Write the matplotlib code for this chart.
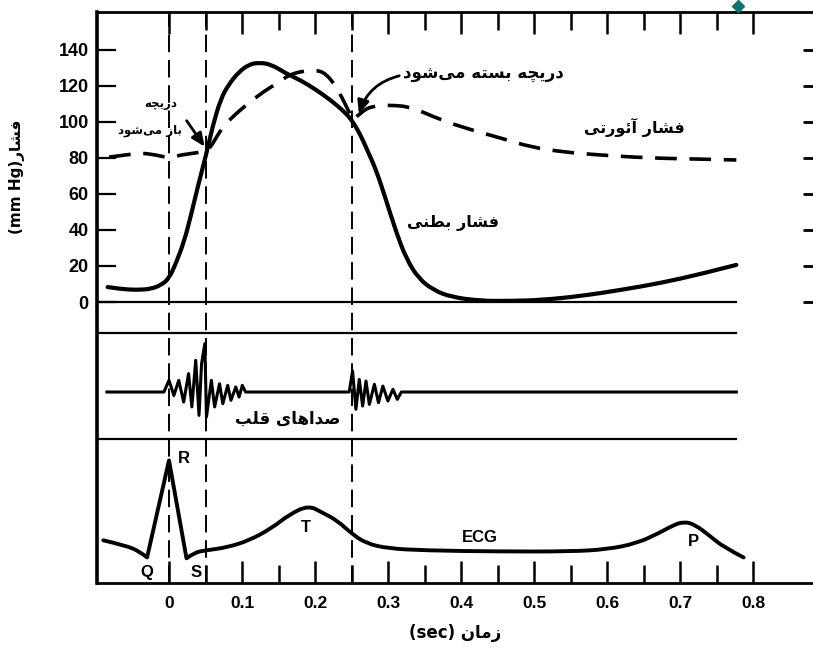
import numpy as np
import matplotlib
matplotlib.use("Agg")
import matplotlib.pyplot as plt
from matplotlib.lines import Line2D
from matplotlib.path import Path
from matplotlib.patches import PathPatch
from matplotlib.ticker import FixedLocator

# ---- data (time in s, pressure in mmHg) ----
lv_t = [-0.084, -0.066, -0.045, -0.025, -0.011, 0.0, 0.010, 0.021, 0.030, 0.040,
        0.051, 0.060, 0.071, 0.082, 0.096, 0.110, 0.123, 0.140, 0.160, 0.181,
        0.201, 0.222, 0.242, 0.252, 0.262, 0.272, 0.284, 0.297, 0.311, 0.325,
        0.342, 0.362, 0.386, 0.427, 0.468, 0.510, 0.564, 0.619, 0.674, 0.729, 0.777]
lv_p = [8.3, 7.2, 6.7, 7.2, 9.4, 13, 22, 34, 48, 65,
        82, 98, 113, 121, 128, 132, 133, 132, 127, 123,
        118, 112, 105, 100, 93, 84, 73, 57, 39, 24,
        13, 6.7, 2.8, 0.6, 0.6, 1.1, 3.3, 6.7, 10.6, 15.6, 20.6]

ao_t = [-0.082, -0.059, -0.038, -0.018, 0.0, 0.016, 0.037, 0.053, 0.060, 0.073,
        0.090, 0.109, 0.130, 0.150, 0.164, 0.180, 0.200, 0.215, 0.230, 0.245,
        0.252, 0.263, 0.279, 0.304, 0.332, 0.373, 0.414, 0.455, 0.496, 0.541,
        0.588, 0.656, 0.725, 0.777]
ao_p = [80.5, 81.7, 82.8, 81.7, 80, 81.7, 82.8, 84, 88, 97,
        104, 110.5, 117, 122, 126, 128, 129, 127, 119, 107,
        101, 105.6, 109, 109.4, 108.3, 101, 95.6, 91, 86, 83.3,
        81.7, 80, 79.4, 78.9]

# heart sounds (amplitude around the trace baseline)
hs_t = [-0.085, -0.007, 0.0, 0.0067, 0.0134, 0.0201, 0.0268, 0.0313, 0.0366, 0.0411,
        0.0446, 0.0491, 0.0513, 0.058, 0.0625, 0.0692, 0.0737, 0.0804, 0.0848, 0.0915,
        0.096, 0.1004, 0.1049, 0.1116,
        0.2468, 0.2514, 0.256, 0.2606, 0.2652, 0.2698, 0.2744, 0.2813, 0.2869, 0.2929,
        0.2998, 0.3067, 0.3127, 0.3182, 0.777]
hs_a = [0, 0, 6.5, -1.9, 6.5, -5.6, 10.2, -8.3, 17.6, -13,
        15.7, 26.9, -13.9, 6.5, -8.3, 4.6, -6.5, 3.7, -4.6, 2.8,
        -2.8, 3.7, 0, 0,
        0, 11.7, -9.6, 7, -7.8, 6.1, -6.9, 4.3, -5.9, 3.3,
        -5, 1.5, -4.1, 0, 0]

# ECG (amplitude around its baseline)
ecg_t = [-0.090, -0.06, -0.04, -0.030, 0.0, 0.024, 0.035, 0.05, 0.08, 0.11,
         0.14, 0.165, 0.191, 0.21, 0.23, 0.25, 0.27, 0.30, 0.35, 0.45,
         0.55, 0.60, 0.64, 0.67, 0.69, 0.705, 0.72, 0.74, 0.76, 0.787]
ecg_a = [5.6, 2.8, -0.6, -3.9, 50, -4.4, -1.1, 0, 1.7, 5.6,
         12.2, 20, 25, 21, 16.7, 9.4, 3.9, 1.1, 0, -0.6,
         -0.6, 0.6, 3.9, 9.4, 13.9, 16, 14.4, 8.3, 1.7, -3.9]

event_t = [0.0, 0.05, 0.25]
y_ticks = [0, 20, 40, 60, 80, 100, 120, 140]
x_ticks = [0, 0.1, 0.2, 0.3, 0.4, 0.5, 0.6, 0.7, 0.8]
x_minor = [0.05, 0.15, 0.25, 0.35, 0.45, 0.55, 0.65, 0.75]
x_tick_labels = ["0", "0.1", "0.2", "0.3", "0.4", "0.5", "0.6", "0.7", "0.8"]

# ---- simple Persian shaping (matplotlib has no complex text layout) ----
FORMS = {
    'ا': ('\uFE8D', '\uFE8E', None, None),
    'آ': ('\uFE81', '\uFE82', None, None),
    'ئ': ('\uFE89', '\uFE8A', '\uFE8B', '\uFE8C'),
    'ب': ('\uFE8F', '\uFE90', '\uFE91', '\uFE92'),
    'ت': ('\uFE95', '\uFE96', '\uFE97', '\uFE98'),
    'چ': ('\uFB7A', '\uFB7B', '\uFB7C', '\uFB7D'),
    'د': ('\uFEA9', '\uFEAA', None, None),
    'ر': ('\uFEAD', '\uFEAE', None, None),
    'ز': ('\uFEAF', '\uFEB0', None, None),
    'س': ('\uFEB1', '\uFEB2', '\uFEB3', '\uFEB4'),
    'ش': ('\uFEB5', '\uFEB6', '\uFEB7', '\uFEB8'),
    'ص': ('\uFEB9', '\uFEBA', '\uFEBB', '\uFEBC'),
    'ط': ('\uFEC1', '\uFEC2', '\uFEC3', '\uFEC4'),
    'ف': ('\uFED1', '\uFED2', '\uFED3', '\uFED4'),
    'ق': ('\uFED5', '\uFED6', '\uFED7', '\uFED8'),
    'ل': ('\uFEDD', '\uFEDE', '\uFEDF', '\uFEE0'),
    'م': ('\uFEE1', '\uFEE2', '\uFEE3', '\uFEE4'),
    'ن': ('\uFEE5', '\uFEE6', '\uFEE7', '\uFEE8'),
    'ه': ('\uFEE9', '\uFEEA', '\uFEEB', '\uFEEC'),
    'و': ('\uFEED', '\uFEEE', None, None),
    'ی': ('\uFBFC', '\uFBFD', '\uFBFE', '\uFBFF'),
}


def fa(text):
    out = []
    for i, c in enumerate(text):
        if c not in FORMS:
            if c != '\u200c':
                out.append(c)
            continue
        prev = text[i - 1] if i > 0 else None
        nxt = text[i + 1] if i + 1 < len(text) else None
        jp = prev in FORMS and FORMS[prev][2] is not None
        jn = nxt in FORMS and FORMS[c][2] is not None
        iso, fin, ini, med = FORMS[c]
        if jp and jn:
            out.append(med)
        elif jp:
            out.append(fin)
        elif jn:
            out.append(ini)
        else:
            out.append(iso)
    return ''.join(reversed(out))


def smooth_path(xs, ys, corners=()):
    # quadratic bezier through midpoints, sharp at the given indices
    p = list(zip(xs, ys))
    n = len(p)
    verts = [p[0]]
    codes = [Path.MOVETO]
    for i in range(1, n - 1):
        if i in corners:
            verts.append(p[i])
            codes.append(Path.LINETO)
            continue
        mid = ((p[i][0] + p[i + 1][0]) / 2, (p[i][1] + p[i + 1][1]) / 2)
        end = p[i + 1] if (i + 1) in corners or i + 1 == n - 1 else mid
        verts += [p[i], end]
        codes += [Path.CURVE3, Path.CURVE3]
    if verts[-1] != p[-1]:
        verts.append(p[-1])
        codes.append(Path.LINETO)
    return Path(verts, codes)


FA = dict(family='DejaVu Sans', fontweight='bold')
LAT = dict(family='Liberation Sans', fontweight='bold')

fig = plt.figure(figsize=(8.13, 6.48), dpi=100)
ax = fig.add_axes([97 / 813, 1 - 583 / 648, 1 - 97 / 813, (583 - 12) / 648])
ax.set_xlim(-0.0986, 0.882)
ax.set_ylim(-156.1, 161.1)

# panel separators
HS_BASE = -50
ECG_BASE = -138
for yv in [0, -17, -76]:
    ax.plot([-0.0986, 0.777], [yv, yv], color='black', lw=1.6)

# event lines
for tv in event_t:
    ax.axvline(tv, color='black', lw=1.4, dashes=(9, 4))

ax.add_patch(PathPatch(smooth_path(lv_t, lv_p), fill=False, lw=3, ec='black',
                       capstyle='round', joinstyle='round'))
ax.add_patch(PathPatch(smooth_path(ao_t, ao_p, corners=(7, 20)), fill=False, lw=2.6,
                       ec='black', linestyle=(0, (6, 3.5))))
ax.plot(hs_t, HS_BASE + np.array(hs_a), color='black', lw=2.2, solid_joinstyle='round')
ax.add_patch(PathPatch(smooth_path(ecg_t, ECG_BASE + np.array(ecg_a), corners=(3, 4, 5)),
                       fill=False, lw=2.8, ec='black', capstyle='round', joinstyle='round'))

# ticks
ax.xaxis.set_major_locator(FixedLocator(x_ticks))
ax.xaxis.set_minor_locator(FixedLocator(x_minor))
ax.set_xticklabels(x_tick_labels, fontsize=12.5, **LAT)
ax.tick_params(axis='x', which='both', direction='in', top=True, bottom=True, width=1.8, pad=9)
ax.tick_params(axis='x', which='major', length=16)
ax.tick_params(axis='x', which='minor', length=13)
ax.set_yticks(y_ticks)
ax.set_yticklabels([str(v) for v in y_ticks], fontsize=13, **LAT)
ax.tick_params(axis='y', direction='in', left=True, right=True, length=14, width=1.6, pad=6)
for tk in ax.yaxis.get_major_ticks():
    tk.tick2line.set_markersize(7)
    tk.tick2line.set_markeredgewidth(2)

ax.spines['right'].set_visible(False)
ax.spines['left'].set_linewidth(2.6)
ax.spines['top'].set_linewidth(2)
ax.spines['bottom'].set_linewidth(2)

# labels
ax.set_xlabel('(sec) ' + fa('زمان'), fontsize=12, labelpad=10, **FA)
fig.text(17 / 813, 1 - 177 / 648, '(mm Hg)' + fa('فشار'), rotation=90, ha='center',
         va='center', fontsize=11, **FA)

ax.text(0.43, 127, fa('دریچه بسته می‌شود'), ha='center', va='center', fontsize=12, **FA)
ax.annotate('', xy=(0.259, 103), xytext=(0.319, 126),
            arrowprops=dict(arrowstyle='-|>,head_length=0.8,head_width=0.35', color='black',
                            lw=2, connectionstyle='arc3,rad=0.3'))
ax.text(-0.011, 110, fa('دریچه'), ha='center', va='center', fontsize=8.5, **FA)
ax.text(-0.026, 95, fa('باز می‌شود'), ha='center', va='center', fontsize=8.5, **FA)
ax.annotate('', xy=(0.051, 85), xytext=(0.022, 102),
            arrowprops=dict(arrowstyle='-|>,head_length=0.8,head_width=0.35', color='black',
                            lw=2))
ax.text(0.638, 97, fa('فشار آئورتی'), ha='center', va='center', fontsize=11.5, **FA)
ax.text(0.389, 44, fa('فشار بطنی'), ha='center', va='center', fontsize=11.5, **FA)
ax.text(0.162, -65, fa('صداهای قلب'), ha='center', va='center', fontsize=12, **FA)

ax.text(0.021, -87, 'R', ha='center', va='center', fontsize=12, **LAT)
ax.text(-0.03, -150, 'Q', ha='center', va='center', fontsize=12, **LAT)
ax.text(0.037, -150, 'S', ha='center', va='center', fontsize=12, **LAT)
ax.text(0.188, -125, 'T', ha='center', va='center', fontsize=12, **LAT)
ax.text(0.425, -131, 'ECG', ha='center', va='center', fontsize=12, **LAT)
ax.text(0.718, -133, 'P', ha='center', va='center', fontsize=12, **LAT)

fig.add_artist(Line2D([738 / 813], [1 - 6 / 648], marker='D', ms=6, color='#127272',
                      transform=fig.transFigure))

fig.savefig('out.png', dpi=100)
